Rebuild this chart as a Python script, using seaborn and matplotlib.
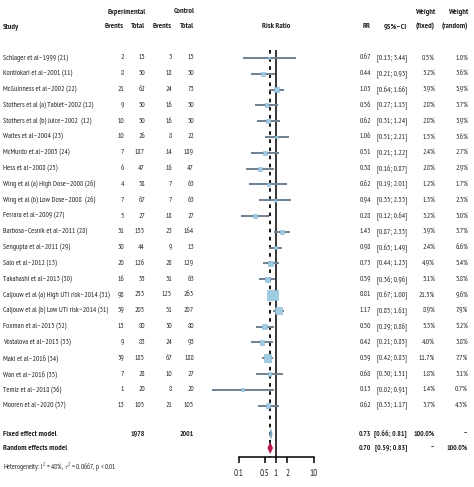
import matplotlib
matplotlib.use("Agg")
import matplotlib.pyplot as plt
import matplotlib.transforms as mtransforms
import numpy as np
import pandas as pd
import seaborn as sns

studies = [
    "Schlager et al–1999 (21)",
    "Kontiokari et al–2001 (11)",
    "McGuinness et al–2002 (22)",
    "Stothers et al (a) Tablet–2002 (12)",
    "Stothers et al (b) Juice–2002  (12)",
    "Waites et al–2004 (23)",
    "McMurdo et al–2005 (24)",
    "Hess et al–2008 (25)",
    "Wing et al (a) High Dose–2008 (26)",
    "Wing et al (b) Low Dose–2008  (26)",
    "Ferrara et al–2009 (27)",
    "Barbosa–Cesnik et al–2011 (28)",
    "Sengupta et al–2011 (29)",
    "Salo et al–2012 (13)",
    "Takahashi et al–2013 (30)",
    "Caljouw et al (a) High UTI risk–2014 (31)",
    "Caljouw et al (b) Low UTI risk–2014 (31)",
    "Foxman et al–2015 (32)",
    "Vostalova et al–2015 (33)",
    "Maki et al–2016 (34)",
    "Wan et al–2016 (35)",
    "Temiz et al–2018 (36)",
    "Mooren et al–2020 (37)",
]
exp_events = [2, 8, 21, 9, 10, 10, 7, 6, 4, 7, 5, 31, 30, 20, 16, 98, 59, 15, 9, 39, 7, 1, 13]
exp_total = [15, 50, 62, 50, 50, 26, 187, 47, 58, 67, 27, 155, 44, 126, 55, 253, 205, 80, 83, 185, 28, 20, 105]
ctrl_events = [3, 18, 24, 16, 16, 8, 14, 16, 7, 7, 18, 23, 9, 28, 31, 125, 51, 30, 24, 67, 10, 8, 21]
ctrl_total = [15, 50, 73, 50, 50, 22, 189, 47, 63, 63, 27, 164, 13, 129, 63, 263, 207, 80, 93, 188, 27, 20, 105]
rr = [0.67, 0.44, 1.03, 0.56, 0.62, 1.06, 0.51, 0.38, 0.62, 0.94, 0.28, 1.43, 0.98, 0.73,
      0.59, 0.81, 1.17, 0.50, 0.42, 0.59, 0.68, 0.13, 0.62]
ci_low = [0.13, 0.21, 0.64, 0.27, 0.31, 0.51, 0.21, 0.16, 0.19, 0.35, 0.12, 0.87, 0.65, 0.44,
          0.36, 0.67, 0.85, 0.29, 0.21, 0.42, 0.30, 0.02, 0.33]
ci_high = [3.44, 0.93, 1.66, 1.15, 1.24, 2.21, 1.22, 0.87, 2.01, 2.53, 0.64, 2.33, 1.49, 1.23,
           0.96, 1.00, 1.61, 0.86, 0.85, 0.83, 1.51, 0.91, 1.17]
w_fixed = [0.5, 3.2, 3.9, 2.8, 2.8, 1.5, 2.4, 2.8, 1.2, 1.3, 3.2, 3.9, 2.4, 4.9, 5.1, 21.5,
           8.9, 5.3, 4.0, 11.7, 1.8, 1.4, 3.7]
w_random = [1.0, 3.6, 5.9, 3.7, 3.9, 3.6, 2.7, 2.9, 1.7, 2.3, 3.0, 5.7, 6.6, 5.4, 5.8, 9.6,
            7.9, 5.2, 3.8, 7.7, 3.1, 0.7, 4.3]

fixed_total = (1978, 2001)
fixed_est = (0.73, 0.66, 0.81)
random_est = (0.70, 0.59, 0.83)
het_text = r"Heterogeneity: $I^2$ = 48%, $\tau^2$ = 0.0667, $p$ < 0.01"
xticks = [0.1, 0.5, 1, 2, 10]

sns.set_theme(style="white")
plt.rcParams["font.family"] = ["PT Sans Narrow", "DejaVu Sans"]
plt.rcParams["mathtext.fontset"] = "custom"
plt.rcParams["mathtext.rm"] = "PT Sans Narrow"
plt.rcParams["mathtext.it"] = "PT Sans Narrow:italic"

W, H = 474, 487
fig = plt.figure(figsize=(W / 100, H / 100), dpi=100)

# layout in pixels
row0_px, step_px = 58, 15.8
ax_left, ax_right = 200, 330
ax = fig.add_axes([ax_left / W, 0, (ax_right - ax_left) / W, 1])
ax.set_xscale("log")
px_per_dec = 37.5
x1_px = 276
ax.set_xlim(10 ** ((ax_left - x1_px) / px_per_dec), 10 ** ((ax_right - x1_px) / px_per_dec))
ax.set_ylim((H - row0_px) / step_px, -row0_px / step_px)
ax.patch.set_alpha(0)


def row(px):
    return (px - row0_px) / step_px


fixed_row, random_row = row(434), row(448)
axis_row = row(457)

df = pd.DataFrame({"study": studies, "rr": rr, "lo": ci_low, "hi": ci_high,
                   "w": w_fixed, "y": np.arange(len(studies))})

ax.vlines(1, row(50), axis_row, color="black", lw=1.1, zorder=1)
ax.vlines(random_est[0], row(50), axis_row, color="black", lw=1.3, ls=(0, (2, 2.5)), zorder=1)

ax.hlines(df["y"], df["lo"], df["hi"], color="#6f8190", lw=1.4, zorder=2)
sns.scatterplot(data=df, x="rr", y="y", size="w", sizes=(2, 55), size_norm=(0.5, 21.5),
                marker="s", color="#9fcbe3", edgecolor="#86b6d2", linewidth=0.4,
                legend=False, zorder=3, ax=ax)


def diamond(est, y, color, h=0.38):
    m, lo, hi = est
    ax.fill([lo, m, hi, m], [y, y - h, y, y + h], color=color, zorder=4, lw=0)


diamond(fixed_est, fixed_row, "#7ea8b8")
diamond(random_est, random_row, "#b8174c")

for s in ["left", "right", "top"]:
    ax.spines[s].set_visible(False)
ax.spines["bottom"].set_position(("data", axis_row))
ax.spines["bottom"].set_bounds(0.1, 10)
ax.spines["bottom"].set_color("black")
ax.spines["bottom"].set_linewidth(1.1)
ax.set_xticks(xticks)
ax.set_xticklabels([f"{t:g}" for t in xticks])
ax.xaxis.set_minor_locator(matplotlib.ticker.NullLocator())
ax.tick_params(axis="x", bottom=True, direction="out", length=4, width=1.1,
               color="black", labelsize=6.5, pad=5)
ax.set_yticks([])
ax.set_xlabel("")
ax.set_ylabel("")

tr = mtransforms.blended_transform_factory(fig.transFigure, ax.transData)
fs = 5.4


def put(xpx, y, s, ha="right", bold=False, size=fs):
    ax.text(xpx / W, y, s, transform=tr, ha=ha, va="center", fontsize=size,
            fontweight="bold" if bold else "normal", color="#222222")


# header
hy1, hy2 = row(12), row(27)
hs = 5.8
put(127, hy1, "Experimental", ha="center", bold=True, size=hs)
put(184, hy1, "Control", ha="center", bold=True, size=hs)
put(3, hy2, "Study", ha="left", bold=True, size=hs)
put(124, hy2, "Events", bold=True, size=hs)
put(145, hy2, "Total", bold=True, size=hs)
put(172, hy2, "Events", bold=True, size=hs)
put(194, hy2, "Total", bold=True, size=hs)
put(276, hy2, "Risk Ratio", ha="center", bold=True, size=hs)
put(371, hy2, "RR", bold=True, size=hs)
put(407, hy2, "95%–CI", bold=True, size=hs)
put(435, hy1, "Weight", bold=True, size=hs)
put(435, hy2, "(fixed)", bold=True, size=hs)
put(468, hy1, "Weight", bold=True, size=hs)
put(468, hy2, "(random)", bold=True, size=hs)

for i, s in enumerate(studies):
    put(3, i, s, ha="left")
    put(124, i, str(exp_events[i]))
    put(145, i, str(exp_total[i]))
    put(172, i, str(ctrl_events[i]))
    put(194, i, str(ctrl_total[i]))
    put(371, i, f"{rr[i]:.2f}")
    put(407, i, f"[{ci_low[i]:.2f}; {ci_high[i]:.2f}]")
    put(435, i, f"{w_fixed[i]:.1f}%")
    put(468, i, f"{w_random[i]:.1f}%")

put(3, fixed_row, "Fixed effect model", ha="left", bold=True, size=hs)
put(145, fixed_row, str(fixed_total[0]), bold=True)
put(194, fixed_row, str(fixed_total[1]), bold=True)
put(371, fixed_row, f"{fixed_est[0]:.2f}", bold=True)
put(407, fixed_row, f"[{fixed_est[1]:.2f}; {fixed_est[2]:.2f}]", bold=True)
put(435, fixed_row, "100.0%", bold=True)
put(468, fixed_row, "--", bold=True)

put(3, random_row, "Random effects model", ha="left", bold=True, size=hs)
put(371, random_row, f"{random_est[0]:.2f}", bold=True)
put(407, random_row, f"[{random_est[1]:.2f}; {random_est[2]:.2f}]", bold=True)
put(435, random_row, "--", bold=True)
put(468, random_row, "100.0%", bold=True)

put(3, row(466), het_text, ha="left", size=5.0)

fig.savefig("out.png", dpi=100)
